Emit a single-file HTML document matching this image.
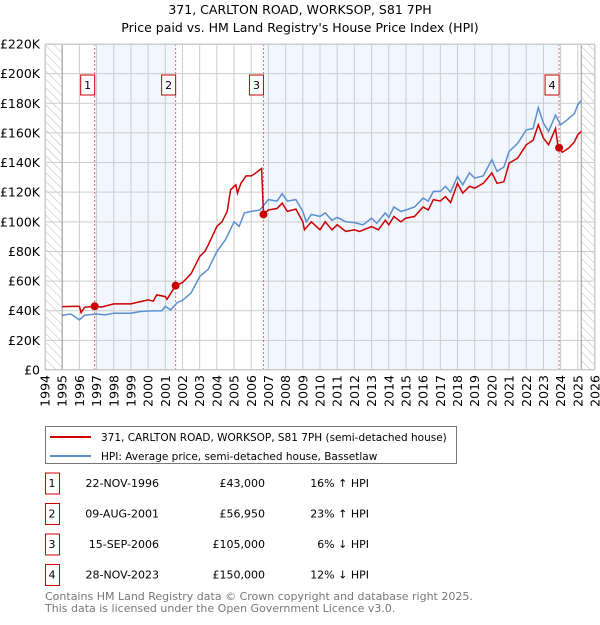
<!DOCTYPE html>
<html><head><meta charset="utf-8"><style>
body{margin:0;background:#fff;width:600px;height:620px;overflow:hidden;font-family:"Liberation Sans","DejaVu Sans",sans-serif}
svg text{font-family:"DejaVu Sans","Liberation Sans",sans-serif}
</style></head><body>
<svg id="chart" width="600" height="620" xmlns="http://www.w3.org/2000/svg">
<defs><pattern id="hatch" width="6" height="6" patternUnits="userSpaceOnUse" patternTransform="rotate(-45)"><line x1="0" y1="0" x2="0" y2="6" stroke="#bbb" stroke-width="1"/></pattern></defs>
<text x="300" y="14" text-anchor="middle" font-size="12.5">371, CARLTON ROAD, WORKSOP, S81 7PH</text>
<text x="300" y="32" text-anchor="middle" font-size="12.5">Price paid vs. HM Land Registry's House Price Index (HPI)</text>
<g id="plot"></g>
<rect x="45.5" y="426.5" width="411" height="37" fill="#fff" stroke="#777"/>
<line x1="50" y1="437" x2="91" y2="437" stroke="#cc0000" stroke-width="2"/>
<text x="101" y="441" font-size="10.5">371, CARLTON ROAD, WORKSOP, S81 7PH (semi-detached house)</text>
<line x1="50" y1="456" x2="91" y2="456" stroke="#5b8fd0" stroke-width="2"/>
<text x="101" y="460" font-size="10.5">HPI: Average price, semi-detached house, Bassetlaw</text>
<g id="table" font-size="11"></g>
<text x="45" y="600" font-size="11" fill="#777">Contains HM Land Registry data © Crown copyright and database right 2025.</text>
<text x="45" y="612" font-size="11" fill="#777">This data is licensed under the Open Government Licence v3.0.</text>
</svg>
<script>
const hpiYears=[1995,1995.5,1996,1996.3,1997,1997.5,1998,1999,1999.5,2000,2000.8,2001,2001.3,2001.7,2002,2002.5,2003,2003.5,2004,2004.5,2005,2005.3,2005.6,2006,2006.5,2007,2007.5,2007.8,2008.1,2008.6,2009,2009.2,2009.5,2010,2010.3,2010.7,2011,2011.5,2012,2012.5,2013,2013.3,2013.8,2014,2014.3,2014.7,2015,2015.5,2016,2016.3,2016.6,2017,2017.3,2017.6,2018,2018.3,2018.7,2019,2019.5,2020,2020.3,2020.7,2021,2021.5,2022,2022.4,2022.7,2023,2023.3,2023.7,2024,2024.4,2024.8,2025,2025.2];
const hpiValues=[37,37.8,33.8,37,37.8,37.2,38.3,38.3,39.4,39.8,40,43,40.5,45.5,47,52,63,68,80,88,100,97,106,107,108,115,114,119,114,115,107,100,105,103.6,106,101,103,100,99.5,98,102.5,99,106,103,110,107,108,110,116,114,120.5,120.5,124,120,130.6,125,133,129.5,131,142,134,137,147.5,153,162,163,177,166.7,161,172,165.5,169,173,179,182];
const ppYears=[1995,1996,1996.1,1996.3,1996.89,1997.3,1998,1999,1999.3,2000,2000.3,2000.5,2001,2001.1,2001.6,2002,2002.5,2003,2003.3,2003.5,2004,2004.3,2004.6,2004.8,2005.1,2005.2,2005.4,2005.7,2006,2006.2,2006.6,2006.71,2007,2007.5,2007.8,2008.1,2008.6,2009,2009.1,2009.5,2010,2010.3,2010.7,2011,2011.5,2012,2012.3,2013,2013.4,2013.8,2014,2014.3,2014.7,2015,2015.5,2016,2016.3,2016.6,2017,2017.3,2017.6,2018,2018.3,2018.7,2019,2019.5,2020,2020.3,2020.7,2021,2021.5,2022,2022.4,2022.7,2023,2023.3,2023.7,2023.85,2023.91,2024.1,2024.5,2024.8,2025,2025.2];
const ppValues=[42.8,43,38.7,42.3,43,42.5,44.6,44.6,45.5,47.3,46.5,50.7,49.5,47.7,56.95,59,65,76.6,80,84.5,97,100,107,121.6,125,119.4,126,131,131,132.4,136,105,108,109,112.6,107,108.6,100,94.6,100,94.6,100,94.6,98,93.5,94.6,93.5,96.8,94.6,101,98,103.6,100,102.5,103.6,110,108,115,114,117,113,126,119.4,124,122.7,126,133,126,127,139.6,143,152,155,165.5,156.5,152,163,151,150,147,150,154,158.8,161];
const saleLabels=["1","2","3","4"];
const saleYears=[1996.89,2001.6,2006.71,2023.91];
const salePrices=[43,56.95,105,150];
const saleDates=["22-NOV-1996","09-AUG-2001","15-SEP-2006","28-NOV-2023"];
const salePriceText=["£43,000","£56,950","£105,000","£150,000"];
const saleHpiText=["16% ↑ HPI","23% ↑ HPI","6% ↓ HPI","12% ↓ HPI"];
const yTicks=[0,20,40,60,80,100,120,140,160,180,200,220];
const yTickLabels=["£0","£20K","£40K","£60K","£80K","£100K","£120K","£140K","£160K","£180K","£200K","£220K"];
const xTicks=[1994,1995,1996,1997,1998,1999,2000,2001,2002,2003,2004,2005,2006,2007,2008,2009,2010,2011,2012,2013,2014,2015,2016,2017,2018,2019,2020,2021,2022,2023,2024,2025,2026];

const L=45,R=595,T=44,B=370,X0=1994,X1=2026,YMAX=220;
const sx=v=>L+(v-X0)/(X1-X0)*(R-L);
const sy=v=>B-v/YMAX*(B-T);
const NS="http://www.w3.org/2000/svg";
const plot=document.getElementById('plot');
function mk(tag,attrs,parent){const e=document.createElementNS(NS,tag);for(const k in attrs)e.setAttribute(k,attrs[k]);(parent||plot).appendChild(e);return e;}

let bg=mk('rect',{x:L,y:T,width:R-L,height:B-T,fill:'#fff'});


for(let i=0;i<saleYears.length-1;i+=2){
  let s=mk('rect',{x:sx(saleYears[i]),y:T,width:sx(saleYears[i+1])-sx(saleYears[i]),height:B-T,fill:'#eef3fd',opacity:0.75});
  
  
}
const dataEnd=2025.2;
let h1=mk('rect',{x:L,y:T,width:sx(1995)-L,height:B-T,fill:'url(#hatch)'});


let h2=mk('rect',{x:sx(dataEnd),y:T,width:R-sx(dataEnd),height:B-T,fill:'url(#hatch)'});


xTicks.forEach(t=>{
  let g=mk('line',{x1:sx(t),x2:sx(t),y1:T,y2:B,stroke:'#ccc','stroke-width':1});
  
  
  let tx=mk('text',{x:0,y:0,transform:`translate(${sx(t)+4.5},375) rotate(-90)`,'text-anchor':'end','font-size':12.5});
  tx.textContent=t;
  
  
});
yTicks.forEach((t,i)=>{
  let g=mk('line',{x1:L,x2:R,y1:sy(t),y2:sy(t),stroke:'#ccc','stroke-width':1});
  
  
  let tx=mk('text',{x:40,y:sy(t)+4.5,'text-anchor':'end','font-size':12.5});
  tx.textContent=yTickLabels[i];
  
  
});
let b1=mk('line',{x1:sx(1995),x2:sx(1995),y1:T,y2:B,stroke:'#999'});


let b2=mk('line',{x1:sx(dataEnd),x2:sx(dataEnd),y1:T,y2:B,stroke:'#999'});


saleYears.forEach((y,i)=>{
  let l=mk('line',{x1:sx(y),x2:sx(y),y1:T,y2:B,stroke:'#ee6666','stroke-dasharray':'2,2','stroke-width':1});
  
  
  let r=mk('rect',{x:sx(y)-14,y:75,width:14,height:20,fill:'#fff',stroke:'#cc0000'});
  
  
  let t=mk('text',{x:sx(y)-7,y:89,'text-anchor':'middle','font-size':11});
  t.textContent=saleLabels[i];
  
  
});
function path(xs,vs){return xs.map((x,i)=>(i?'L':'M')+sx(x).toFixed(1)+','+sy(vs[i]).toFixed(1)).join('');}
let hp=mk('path',{d:path(hpiYears,hpiValues),fill:'none',stroke:'#5b8fd0','stroke-width':1.5});


let pp=mk('path',{d:path(ppYears,ppValues),fill:'none',stroke:'#cc0000','stroke-width':1.5});


saleYears.forEach((y,i)=>{
  let c=mk('circle',{cx:sx(y),cy:sy(salePrices[i]),r:4,fill:'#cc0000'});
  
  
});
let fr=mk('rect',{x:L+0.5,y:T+0.5,width:R-L-1,height:B-T-1,fill:'none',stroke:'#ccc'});


const tb=document.getElementById('table');
saleLabels.forEach((lab,i)=>{
  const cy=483+i*30.5;
  let r=mk('rect',{x:45.5,y:cy-10,width:14,height:21,fill:'#fff',stroke:'#cc0000'},tb);
  
  
  const cells=[[52,lab,'middle'],[159,saleDates[i],'end'],[265,salePriceText[i],'end'],[369,saleHpiText[i],'end']];
  cells.forEach(c=>{
    let t=mk('text',{x:c[0],y:cy+4,'text-anchor':c[2]},tb);
    t.textContent=c[1];
    
    
  });
});
</script>
</body></html>
